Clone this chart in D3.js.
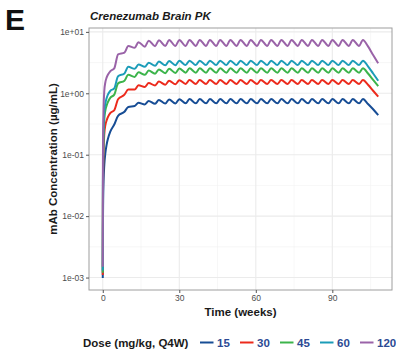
<!DOCTYPE html>
<html>
<head>
<meta charset="utf-8">
<script src="https://cdn.jsdelivr.net/npm/d3@7"></script>
<style>
	body { margin: 0; background: #fff; }
	svg text { font-family: "Liberation Sans", Arial, Helvetica, sans-serif; }
</style>
</head>
<body>
<div id="chartDiv"></div>
<script>
// time points (weeks), doses at 0,4,...,100 ; troughs lag ~0.5 wk, peaks ~2 wk after dose
var weeks = [0, 0.05, 0.15, 0.3, 0.6, 1, 1.5, 2, 3,
	4.5, 6, 8.5, 10, 12.5, 14, 16.5, 18, 20.5, 22, 24.5, 26, 28.5, 30,
	32.5, 34, 36.5, 38, 40.5, 42, 44.5, 46, 48.5, 50, 52.5, 54, 56.5, 58,
	60.5, 62, 64.5, 66, 68.5, 70, 72.5, 74, 76.5, 78, 80.5, 82, 84.5, 86,
	88.5, 90, 92.5, 94, 96.5, 98, 100.5, 102, 104, 106, 108];

var doseLabels = ["15", "30", "45", "60", "120"];
var doseColors = ["#174d95", "#ec2a1c", "#3cb44b", "#1b9cb8", "#9a63a8"];

// brain concentration (ug/mL)
var conc15 = [0.00098, 0.006, 0.018, 0.036, 0.068, 0.105, 0.145, 0.18, 0.24,
	0.31, 0.43, 0.50, 0.60, 0.62, 0.70, 0.66, 0.75, 0.675, 0.78, 0.68, 0.795, 0.683, 0.80,
	0.686, 0.805, 0.686, 0.805, 0.686, 0.805, 0.686, 0.805, 0.686, 0.805, 0.686, 0.805, 0.686, 0.805,
	0.686, 0.805, 0.686, 0.805, 0.686, 0.805, 0.686, 0.805, 0.686, 0.805, 0.686, 0.805, 0.686, 0.805,
	0.686, 0.805, 0.686, 0.805, 0.686, 0.805, 0.686, 0.805, 0.67, 0.55, 0.44];
var conc30 = [0.0011, 0.015, 0.05, 0.11, 0.22, 0.30, 0.36, 0.41, 0.48,
	0.53, 0.80, 0.95, 1.15, 1.15, 1.35, 1.27, 1.47, 1.34, 1.55, 1.38, 1.60, 1.40, 1.63,
	1.42, 1.64, 1.42, 1.64, 1.42, 1.64, 1.42, 1.64, 1.42, 1.64, 1.42, 1.64, 1.42, 1.64,
	1.42, 1.64, 1.42, 1.64, 1.42, 1.64, 1.42, 1.64, 1.42, 1.64, 1.42, 1.64, 1.42, 1.64,
	1.42, 1.64, 1.42, 1.64, 1.42, 1.64, 1.42, 1.64, 1.38, 1.10, 0.88];
var conc45 = [0.0012, 0.025, 0.08, 0.18, 0.38, 0.52, 0.63, 0.72, 0.85,
	0.95, 1.45, 1.60, 2.00, 1.85, 2.20, 2.00, 2.35, 2.08, 2.45, 2.13, 2.50, 2.15, 2.53,
	2.17, 2.55, 2.17, 2.55, 2.17, 2.55, 2.17, 2.55, 2.17, 2.55, 2.17, 2.55, 2.17, 2.55,
	2.17, 2.55, 2.17, 2.55, 2.17, 2.55, 2.17, 2.55, 2.17, 2.55, 2.17, 2.55, 2.17, 2.55,
	2.17, 2.55, 2.17, 2.55, 2.17, 2.55, 2.17, 2.55, 2.10, 1.65, 1.31];
var conc60 = [0.0013, 0.035, 0.11, 0.25, 0.50, 0.68, 0.83, 0.95, 1.10,
	1.20, 1.90, 2.10, 2.70, 2.50, 2.95, 2.70, 3.15, 2.80, 3.28, 2.85, 3.35, 2.87, 3.38,
	2.88, 3.40, 2.88, 3.40, 2.88, 3.40, 2.88, 3.40, 2.88, 3.40, 2.88, 3.40, 2.88, 3.40,
	2.88, 3.40, 2.88, 3.40, 2.88, 3.40, 2.88, 3.40, 2.88, 3.40, 2.88, 3.40, 2.88, 3.40,
	2.88, 3.40, 2.88, 3.40, 2.88, 3.40, 2.88, 3.40, 2.75, 2.10, 1.60];
var conc120 = [0.0015, 0.07, 0.25, 0.55, 1.10, 1.50, 1.80, 2.00, 2.30,
	2.55, 4.30, 4.60, 5.90, 5.50, 6.80, 5.75, 7.20, 5.85, 7.30, 5.88, 7.35, 5.90, 7.38,
	5.90, 7.40, 5.90, 7.40, 5.90, 7.40, 5.90, 7.40, 5.90, 7.40, 5.90, 7.40, 5.90, 7.40,
	5.90, 7.40, 5.90, 7.40, 5.90, 7.40, 5.90, 7.40, 5.90, 7.40, 5.90, 7.40, 5.90, 7.40,
	5.90, 7.40, 5.90, 7.40, 5.90, 7.40, 5.90, 7.40, 5.80, 4.20, 3.08];

var xTicks = [0, 30, 60, 90];
var xMinor = [15, 45, 75, 105];
var yTicks = [0.001, 0.01, 0.1, 1, 10];
var yTickLabels = ["1e-03", "1e-02", "1e-01", "1e+00", "1e+01"];
var yMinor = [0.00316228, 0.0316228, 0.316228, 3.16228];

var allSeries = [conc15, conc30, conc45, conc60, conc120];

var width = 396, height = 349;
var panel = {left: 89, right: 392, top: 28, bottom: 290};

function init() {
	var svg = d3.select("#chartDiv").append("svg")
		.attr("width", width)
		.attr("height", height);

	// ggplot-like 5% expansion (log space for y)
	var xExt = d3.extent(weeks);
	var xPad = (xExt[1] - xExt[0]) * 0.05;
	var x = d3.scaleLinear()
		.domain([xExt[0] - xPad, xExt[1] + xPad])
		.range([panel.left, panel.right]);

	var allVals = [].concat.apply([], allSeries);
	var lmin = Math.log10(d3.min(allVals));
	var lmax = Math.log10(d3.max(allVals));
	var lPad = (lmax - lmin) * 0.05;
	var y = d3.scaleLog()
		.domain([Math.pow(10, lmin - lPad), Math.pow(10, lmax + lPad)])
		.range([panel.bottom, panel.top]);

	// panel + grid
	svg.append("rect")
		.attr("x", panel.left).attr("y", panel.top)
		.attr("width", panel.right - panel.left)
		.attr("height", panel.bottom - panel.top)
		.attr("fill", "#fff");

	var grid = svg.append("g");
	grid.selectAll(".xminor").data(xMinor).enter().append("line")
		.attr("x1", function (d) { return x(d); }).attr("x2", function (d) { return x(d); })
		.attr("y1", panel.top).attr("y2", panel.bottom)
		.attr("stroke", "#f2f2f2").attr("stroke-width", 0.6);
	grid.selectAll(".yminor").data(yMinor).enter().append("line")
		.attr("y1", function (d) { return y(d); }).attr("y2", function (d) { return y(d); })
		.attr("x1", panel.left).attr("x2", panel.right)
		.attr("stroke", "#f2f2f2").attr("stroke-width", 0.6);
	grid.selectAll(".xmajor").data(xTicks).enter().append("line")
		.attr("x1", function (d) { return x(d); }).attr("x2", function (d) { return x(d); })
		.attr("y1", panel.top).attr("y2", panel.bottom)
		.attr("stroke", "#ebebeb").attr("stroke-width", 1.1);
	grid.selectAll(".ymajor").data(yTicks).enter().append("line")
		.attr("y1", function (d) { return y(d); }).attr("y2", function (d) { return y(d); })
		.attr("x1", panel.left).attr("x2", panel.right)
		.attr("stroke", "#ebebeb").attr("stroke-width", 1.1);

	// lines
	var line = d3.line()
		.x(function (d, i) { return x(weeks[i]); })
		.y(function (d) { return y(d); })
		.curve(d3.curveMonotoneX);

	svg.append("g").selectAll("path")
		.data(allSeries).enter().append("path")
		.attr("d", line)
		.attr("fill", "none")
		.attr("stroke", function (d, i) { return doseColors[i]; })
		.attr("stroke-width", 2)
		.attr("stroke-linejoin", "round");

	svg.append("rect")
		.attr("x", panel.left).attr("y", panel.top)
		.attr("width", panel.right - panel.left)
		.attr("height", panel.bottom - panel.top)
		.attr("fill", "none")
		.attr("stroke", "#9e9e9e")
		.attr("stroke-width", 1);

	// axes
	var yAxis = d3.axisLeft(y)
		.tickValues(yTicks)
		.tickSize(3)
		.tickPadding(2)
		.tickFormat(function (d, i) { return yTickLabels[i]; });
	var gy = svg.append("g")
		.attr("transform", "translate(" + panel.left + ",0)")
		.call(yAxis);

	var xAxis = d3.axisBottom(x)
		.tickValues(xTicks)
		.tickSize(3)
		.tickPadding(2)
		.tickFormat(d3.format("d"));
	var gx = svg.append("g")
		.attr("transform", "translate(0," + panel.bottom + ")")
		.call(xAxis);

	[gx, gy].forEach(function (g) {
		g.select(".domain").remove();
		g.selectAll(".tick line").attr("stroke", "#555");
		g.selectAll(".tick text")
			.attr("fill", "#4d4d4d")
			.style("font-size", "8.5px");
	});

	// titles
	svg.append("text")
		.attr("x", 5).attr("y", 30)
		.style("font-size", "30px").style("font-weight", "bold")
		.attr("fill", "#111")
		.text("E");

	svg.append("text")
		.attr("x", 90).attr("y", 20)
		.style("font-size", "11.5px").style("font-weight", "bold").style("font-style", "italic")
		.attr("fill", "#1a1a1a")
		.text("Crenezumab Brain PK");

	svg.append("text")
		.attr("transform", "translate(57," + ((panel.top + panel.bottom) / 2) + ") rotate(-90)")
		.attr("text-anchor", "middle")
		.style("font-size", "11.5px").style("font-weight", "bold")
		.attr("fill", "#1a1a1a")
		.text("mAb Concentration (µg/mL)");

	svg.append("text")
		.attr("x", (panel.left + panel.right) / 2).attr("y", 316)
		.attr("text-anchor", "middle")
		.style("font-size", "11.5px").style("font-weight", "bold")
		.attr("fill", "#1a1a1a")
		.text("Time (weeks)");

	// legend
	var legend = svg.append("g");
	legend.append("text")
		.attr("x", 83).attr("y", 346.5)
		.style("font-size", "11.5px").style("font-weight", "bold")
		.attr("fill", "#1a1a1a")
		.text("Dose (mg/kg, Q4W)");

	var items = legend.selectAll(".item")
		.data(doseLabels).enter().append("g")
		.attr("transform", function (d, i) { return "translate(" + (200 + i * 40) + ",0)"; });
	items.append("line")
		.attr("x1", 0).attr("x2", 13.5)
		.attr("y1", 342.5).attr("y2", 342.5)
		.attr("stroke", function (d, i) { return doseColors[i]; })
		.attr("stroke-width", 2);
	items.append("text")
		.attr("x", 17).attr("y", 346.5)
		.style("font-size", "11.5px").style("font-weight", "bold")
		.attr("fill", "#2c4a94")
		.text(function (d) { return d; });
}

init();
</script>
</body>
</html>
